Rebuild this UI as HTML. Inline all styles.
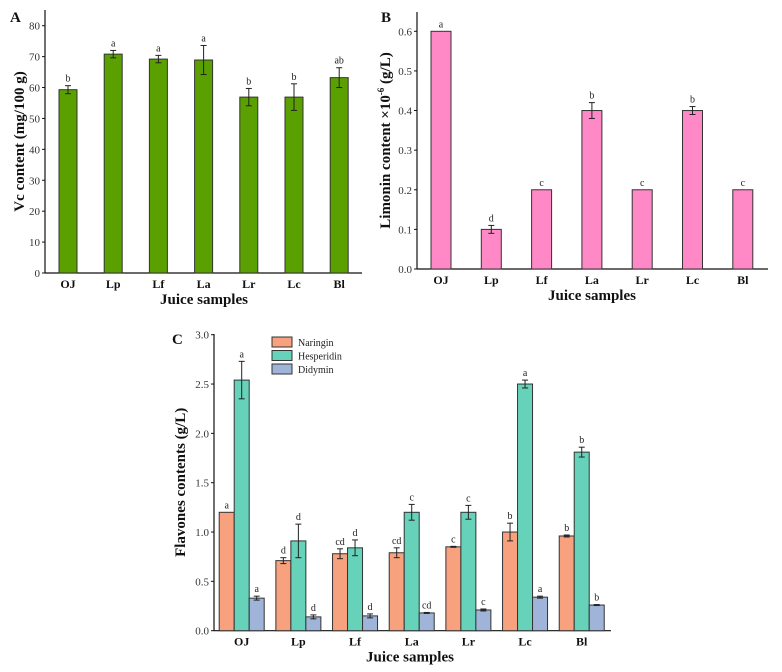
<!DOCTYPE html>
<html><head><meta charset="utf-8"><style>
html,body{margin:0;padding:0;background:#fff;}
svg{display:block;font-family:"Liberation Serif",serif;}
.tk{font-size:11px;fill:#333;}
.xl{font-size:12px;font-weight:bold;fill:#111;}
.tt{font-size:15px;font-weight:bold;fill:#111;}
.lt{font-size:10px;fill:#222;}
</style></head><body>
<svg id="chart" width="782" height="672" viewBox="0 0 782 672"></svg>
<script>
const cats = ["OJ","Lp","Lf","La","Lr","Lc","Bl"];
const vcValues = [59.3,70.8,69.2,68.9,56.9,56.9,63.2];
const vcErrors = [1.3,1.2,1.2,4.7,2.8,4.3,3.2];
const vcLetters = ["b","a","a","a","b","b","ab"];
const vcTicks = [0,10,20,30,40,50,60,70,80];
const limValues = [0.6,0.1,0.2,0.4,0.2,0.4,0.2];
const limErrors = [0,0.01,0,0.02,0,0.01,0];
const limLetters = ["a","d","c","b","c","b","c"];
const limTicks = [0,0.1,0.2,0.3,0.4,0.5,0.6];
const naringin = [1.2,0.71,0.78,0.79,0.85,1.0,0.96];
const naringinErr = [0,0.03,0.05,0.05,0.005,0.09,0.01];
const naringinLetters = ["a","d","cd","cd","c","b","b"];
const hesperidin = [2.54,0.91,0.84,1.2,1.2,2.5,1.81];
const hesperidinErr = [0.19,0.17,0.08,0.08,0.07,0.04,0.05];
const hesperidinLetters = ["a","d","d","c","c","a","b"];
const didymin = [0.33,0.14,0.15,0.18,0.21,0.34,0.26];
const didyminErr = [0.02,0.02,0.02,0.005,0.01,0.01,0.005];
const didyminLetters = ["a","d","d","cd","c","a","b"];
const flTicks = [0,0.5,1.0,1.5,2.0,2.5,3.0];
const seriesNames = ["Naringin","Hesperidin","Didymin"];

const svg=document.getElementById('chart');
const NS="http://www.w3.org/2000/svg";
function mk(tag,attrs,parent,txt){const e=document.createElementNS(NS,tag);for(const k in attrs)e.setAttribute(k,attrs[k]);if(txt!==undefined)e.textContent=txt;(parent||svg).appendChild(e);return e;}

function panel(o){
  const g=mk('g',{});
  
  
  const y=v=>o.y0-(v-o.vmin)/(o.vmax-o.vmin)*(o.y0-o.y1);
  const x=i=>o.xs+i*o.dx;
  // axes
  const ya=mk('line',{x1:o.ax,y1:o.top,x2:o.ax,y2:o.y0,stroke:'#111','stroke-width':1.2},g);
  
  const xa=mk('line',{x1:o.ax,y1:o.y0,x2:o.xend,y2:o.y0,stroke:'#111','stroke-width':1.2},g);
  
  o.ticks.forEach(t=>{
    mk('line',{x1:o.ax-3,y1:y(t),x2:o.ax,y2:y(t),stroke:'#111'},g);
    const l=mk('text',{x:o.ax-5,y:y(t)+4,'text-anchor':'end',class:'tk'},g,o.fmt(t));
    
  });
  cats.forEach((c,i)=>{
    const l=mk('text',{x:x(i),y:o.y0+15,'text-anchor':'middle',class:'xl'},g,c);
    
  });
  o.series.forEach((s,si)=>{
    s.vals.forEach((v,i)=>{
      const cx=x(i)+s.off;
      const r=mk('rect',{x:cx-o.bw/2,y:y(v),width:o.bw,height:o.y0-y(v),fill:s.color,stroke:'#333','stroke-width':1},g);
      
      
      const e=s.err[i];
      if(e>0){
        mk('line',{x1:cx,y1:y(v+e),x2:cx,y2:y(v-e),stroke:'#222'},g);
        mk('line',{x1:cx-3,y1:y(v+e),x2:cx+3,y2:y(v+e),stroke:'#222'},g);
        mk('line',{x1:cx-3,y1:y(v-e),x2:cx+3,y2:y(v-e),stroke:'#222'},g);
      }
      const lt=mk('text',{x:cx,y:y(v+e)-4,'text-anchor':'middle',class:'lt'},g,s.letters[i]);
      
    });
  });
  const xt=mk('text',{x:o.xtx,y:o.y0+31,'text-anchor':'middle',class:'tt'},g,'Juice samples');
  
  const yt=mk('text',{x:0,y:0,'text-anchor':'middle',class:'tt',transform:`translate(${o.ytx},${(o.top+o.y0)/2}) rotate(-90)`},g);
  
  yt.innerHTML=o.ytitle;
  const pl=mk('text',{x:o.lx,y:o.ly,class:'tt'},g,o.letter);
  
  return g;
}
const f0=t=>String(t), f1=t=>t.toFixed(1);
panel({name:'panel-a-vc',ax:45,top:10,y0:273,y1:25.7,vmin:0,vmax:80,xend:362,xs:68,dx:45.2,bw:18,ticks:vcTicks,fmt:f0,
  series:[{key:'vc',vals:vcValues,err:vcErrors,letters:vcLetters,color:'#5aa000',off:0}],
  xtx:204,ytx:24,ytitle:'Vc content (mg/100 g)',letter:'A',lx:10,ly:22});
panel({name:'panel-b-limonin',ax:417,top:12,y0:269,y1:31.3,vmin:0,vmax:0.6,xend:768,xs:441,dx:50.3,bw:20,ticks:limTicks,fmt:f1,
  series:[{key:'limonin',vals:limValues,err:limErrors,letters:limLetters,color:'#ff88c6',off:0}],
  xtx:592,ytx:390,ytitle:'Limonin content ×10<tspan dy="-6" font-size="9">-6</tspan><tspan dy="6"> (g/L)</tspan>',letter:'B',lx:381,ly:22});
panel({name:'panel-c-flavones',ax:214,top:334,y0:630.7,y1:334.7,vmin:0,vmax:3,xend:611,xs:241.7,dx:56.67,bw:15,ticks:flTicks,fmt:f1,
  series:[{key:'naringin',vals:naringin,err:naringinErr,letters:naringinLetters,color:'#f7a17f',off:-15},
          {key:'hesperidin',vals:hesperidin,err:hesperidinErr,letters:hesperidinLetters,color:'#66d2b9',off:0},
          {key:'didymin',vals:didymin,err:didyminErr,letters:didyminLetters,color:'#9fb4d8',off:15}],
  xtx:410,ytx:185,ytitle:'Flavones contents (g/L)',letter:'C',lx:172,ly:344});
const colors=['#f7a17f','#66d2b9','#9fb4d8'];
seriesNames.forEach((n,i)=>{
  const g=mk('g',{});
  
  
  mk('rect',{x:272,y:337+i*13.5,width:20,height:10,fill:colors[i],stroke:'#333'},g);
  mk('text',{x:298,y:346+i*13.5,class:'lt','font-size':'11'},g,n);
});
</script>
</body></html>
